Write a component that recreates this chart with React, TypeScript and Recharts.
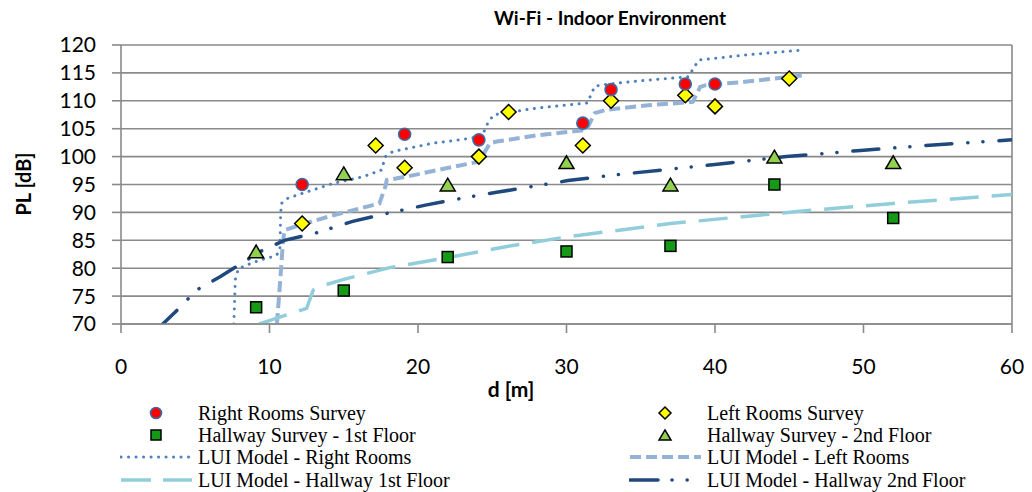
import React from 'react'
import { ComposedChart, XAxis, YAxis, CartesianGrid, Line, Scatter, ReferenceLine } from 'recharts'

// survey measurements (d in m, PL in dB)
const rightRoomsSurvey = [
  { d: 12.2, pl: 95 }, { d: 19.1, pl: 104 }, { d: 24.1, pl: 103 }, { d: 31.1, pl: 106 },
  { d: 33, pl: 112 }, { d: 38, pl: 113 }, { d: 40, pl: 113 },
]
const leftRoomsSurvey = [
  { d: 12.2, pl: 88 }, { d: 17.15, pl: 102 }, { d: 19.1, pl: 98 }, { d: 24.1, pl: 100 },
  { d: 26.1, pl: 108 }, { d: 31.1, pl: 102 }, { d: 33, pl: 110 }, { d: 38, pl: 111 },
  { d: 40, pl: 109 }, { d: 45, pl: 114 },
]
const hallway1Survey = [
  { d: 9.1, pl: 73 }, { d: 15, pl: 76 }, { d: 22, pl: 82 }, { d: 30, pl: 83 },
  { d: 37, pl: 84 }, { d: 44, pl: 95 }, { d: 52, pl: 89 },
]
const hallway2Survey = [
  { d: 9.1, pl: 83 }, { d: 15, pl: 97 }, { d: 22, pl: 95 }, { d: 30, pl: 99 },
  { d: 37, pl: 95 }, { d: 44, pl: 100 }, { d: 52, pl: 99 },
]

// LUI model curves
const rightRoomsModel = [
  { d: 7.6, pl: 70 }, { d: 7.7, pl: 78 }, { d: 7.9, pl: 79.9 }, { d: 8.5, pl: 80.6 }, { d: 9.4, pl: 81.5 },
  { d: 10.4, pl: 82.2 }, { d: 10.7, pl: 83 }, { d: 10.75, pl: 89.5 }, { d: 10.8, pl: 91.6 }, { d: 11.2, pl: 92.5 },
  { d: 12.2, pl: 93.4 }, { d: 14.3, pl: 95.2 }, { d: 16.3, pl: 96.4 }, { d: 17.55, pl: 97.6 }, { d: 17.8, pl: 100 },
  { d: 18.3, pl: 100.9 }, { d: 21, pl: 102.4 }, { d: 22.5, pl: 102.9 }, { d: 24.3, pl: 103.6 }, { d: 24.7, pl: 106 },
  { d: 25.1, pl: 107.5 }, { d: 28, pl: 108.7 }, { d: 31.4, pl: 109.6 }, { d: 31.9, pl: 112.6 }, { d: 32.5, pl: 112.9 },
  { d: 35, pl: 113.6 }, { d: 38.2, pl: 114.3 }, { d: 38.9, pl: 117.3 }, { d: 42, pl: 118.2 }, { d: 45.9, pl: 119.1 },
]
const leftRoomsModel = [
  { d: 10.5, pl: 70 }, { d: 10.7, pl: 77 }, { d: 10.9, pl: 84.5 }, { d: 11, pl: 86.8 }, { d: 12, pl: 87.7 },
  { d: 14.3, pl: 89.5 }, { d: 17.4, pl: 91.6 }, { d: 17.8, pl: 94.6 }, { d: 17.9, pl: 95.8 }, { d: 19.2, pl: 96.4 },
  { d: 21.9, pl: 97.9 }, { d: 24.1, pl: 99.1 }, { d: 24.85, pl: 102.4 }, { d: 25.3, pl: 102.7 }, { d: 28, pl: 103.8 },
  { d: 31.35, pl: 104.8 }, { d: 31.9, pl: 107.8 }, { d: 32.7, pl: 108.4 }, { d: 35.5, pl: 109.2 }, { d: 38.5, pl: 109.8 },
  { d: 39, pl: 112.5 }, { d: 39.4, pl: 112.8 }, { d: 42, pl: 113.4 }, { d: 46, pl: 114.6 },
]
const hallway1Model = [
  { d: 9.3, pl: 70 }, { d: 10, pl: 70.6 }, { d: 11.1, pl: 71.6 }, { d: 12.5, pl: 72.8 }, { d: 12.95, pl: 76.1 },
  { d: 13.5, pl: 76.8 }, { d: 15, pl: 78 }, { d: 18.1, pl: 80.1 }, { d: 22, pl: 81.9 }, { d: 26, pl: 83.9 },
  { d: 30, pl: 85.6 }, { d: 37, pl: 88 }, { d: 45.7, pl: 90.2 }, { d: 52, pl: 91.6 }, { d: 60, pl: 93.2 },
]
const hallway2Model = [
  { d: 2.5, pl: 69.2 }, { d: 3.6, pl: 72 }, { d: 5.1, pl: 76.1 }, { d: 6.7, pl: 78.5 }, { d: 8.5, pl: 81.5 },
  { d: 9.4, pl: 83 }, { d: 11, pl: 85 }, { d: 13, pl: 86.2 }, { d: 15.6, pl: 88.4 }, { d: 17.7, pl: 89.7 },
  { d: 20.5, pl: 91.3 }, { d: 23.5, pl: 92.8 }, { d: 25.3, pl: 93.6 }, { d: 30.1, pl: 95.7 }, { d: 33.2, pl: 96.7 },
  { d: 40, pl: 98.6 }, { d: 44.8, pl: 100 }, { d: 49.8, pl: 101.1 }, { d: 54.7, pl: 102.1 }, { d: 60, pl: 103 },
]

const xTicks = [0, 10, 20, 30, 40, 50, 60]
const yTicks = [70, 75, 80, 85, 90, 95, 100, 105, 110, 115, 120]

const GRID = '#8a8a8a'
const SANS = 'Lato, "Open Sans", sans-serif'
const SERIF = '"Liberation Serif", "DejaVu Serif", serif'

const STYLES = {
  rightModel: { stroke: '#4f81bd', strokeWidth: 3, strokeDasharray: '0.1 7.4', strokeLinecap: 'round' as const },
  leftModel: { stroke: '#95b3d7', strokeWidth: 4, strokeDasharray: '11 5', strokeLinecap: 'butt' as const },
  hall1Model: { stroke: '#92cddc', strokeWidth: 3.5, strokeDasharray: '29 13', strokeLinecap: 'butt' as const },
  hall2Model: { stroke: '#1f497d', strokeWidth: 3.5, strokeDasharray: '26 16 0.1 15 0.1 16', strokeLinecap: 'round' as const },
}

const circle = (cx: number, cy: number, r = 6) => (
  <circle cx={cx} cy={cy} r={r} fill="#ff0000" stroke="#3f6aa0" strokeWidth={1.6} />
)
const square = (cx: number, cy: number, s = 11) => (
  <rect x={cx - s / 2} y={cy - s / 2} width={s} height={s} fill="#149a14" stroke="#000" strokeWidth={1.5} />
)
const diamond = (cx: number, cy: number, h = 7.5) => (
  <polygon points={`${cx},${cy - h} ${cx + h},${cy} ${cx},${cy + h} ${cx - h},${cy}`} fill="#ffff00" stroke="#000" strokeWidth={1.5} />
)
const triangle = (cx: number, cy: number, w = 15) => {
  const h = w * 0.85
  return <polygon points={`${cx},${cy - h / 2} ${cx + w / 2},${cy + h / 2} ${cx - w / 2},${cy + h / 2}`} fill="#92d050" stroke="#000" strokeWidth={1.5} />
}

function LegendLine({ s }: { s: any }) {
  return (
    <svg width={74} height={10} style={{ display: 'block' }}>
      <line x1={1} x2={72} y1={5} y2={5} {...s} />
    </svg>
  )
}

function LegendMarker({ draw }: { draw: (cx: number, cy: number) => React.ReactNode }) {
  return (
    <svg width={74} height={18} style={{ display: 'block' }}>
      {draw(36, 9)}
    </svg>
  )
}

const legendRows = [
  [
    { label: 'Right Rooms Survey', icon: <LegendMarker draw={(x, y) => circle(x, y, 5.5)} /> },
    { label: 'Left Rooms Survey', icon: <LegendMarker draw={(x, y) => diamond(x, y, 6)} /> },
  ],
  [
    { label: 'Hallway Survey - 1st Floor', icon: <LegendMarker draw={(x, y) => square(x, y, 10)} /> },
    { label: 'Hallway Survey - 2nd Floor', icon: <LegendMarker draw={(x, y) => triangle(x, y, 12)} /> },
  ],
  [
    { label: 'LUI Model - Right Rooms', icon: <LegendLine s={STYLES.rightModel} /> },
    { label: 'LUI Model - Left Rooms', icon: <LegendLine s={STYLES.leftModel} /> },
  ],
  [
    { label: 'LUI Model - Hallway 1st Floor', icon: <LegendLine s={{ ...STYLES.hall1Model, strokeDasharray: '30 12' }} /> },
    { label: 'LUI Model - Hallway 2nd Floor', icon: <LegendLine s={{ ...STYLES.hall2Model, strokeDasharray: '28 14 0.1 15 0.1 20' }} /> },
  ],
]

const ROW_H = 22.2

export default function App() {
  return (
    <div style={{ position: 'absolute', left: 0, top: 0, width: 1032, height: 492, background: '#fff', overflow: 'hidden' }}>
      <div style={{ position: 'absolute', left: 410, width: 400, top: 6, textAlign: 'center', fontFamily: SANS, fontWeight: 700, fontSize: 19, color: '#000' }}>
        Wi-Fi - Indoor Environment
      </div>
      <div style={{ position: 'absolute', left: 23, top: 184, transform: 'translate(-50%, -50%) rotate(-90deg)', whiteSpace: 'nowrap', fontFamily: SANS, fontWeight: 700, fontSize: 20 }}>
        PL [dB]
      </div>
      <div style={{ position: 'absolute', left: 511, top: 388, transform: 'translate(-50%, -50%)', whiteSpace: 'nowrap', fontFamily: SANS, fontWeight: 700, fontSize: 21 }}>
        d [m]
      </div>

      <ComposedChart width={1032} height={400} margin={{ top: 45, right: 20, bottom: 0, left: 0 }} style={{ position: 'absolute', left: 0, top: 0 }}>
        <CartesianGrid vertical={false} stroke={GRID} strokeWidth={1.6} />
        <XAxis
          type="number" dataKey="d" domain={[0, 60]} ticks={xTicks} interval={0} allowDataOverflow height={76}
          tickSize={9} tickMargin={26} stroke={GRID} strokeWidth={1.6}
          tick={{ fontSize: 21, fill: '#000', fontFamily: SANS }}
        />
        <YAxis
          type="number" domain={[70, 120]} ticks={yTicks} interval={0} allowDataOverflow width={121}
          tickSize={9} tickMargin={16} stroke={GRID} strokeWidth={1.6}
          tick={{ fontSize: 21, fill: '#000', fontFamily: SANS }}
        />
        <ReferenceLine x={60} stroke={GRID} strokeWidth={1.6} />

        <Line data={rightRoomsModel} dataKey="pl" type="linear" dot={false} activeDot={false} isAnimationActive={false} {...STYLES.rightModel} />
        <Line data={leftRoomsModel} dataKey="pl" type="linear" dot={false} activeDot={false} isAnimationActive={false} {...STYLES.leftModel} />
        <Line data={hallway1Model} dataKey="pl" type="linear" dot={false} activeDot={false} isAnimationActive={false} {...STYLES.hall1Model} />
        <Line data={hallway2Model} dataKey="pl" type="linear" dot={false} activeDot={false} isAnimationActive={false} {...STYLES.hall2Model} />

        <Scatter data={hallway1Survey} dataKey="pl" isAnimationActive={false} shape={(p: any) => square(p.cx, p.cy)} />
        <Scatter data={hallway2Survey} dataKey="pl" isAnimationActive={false} shape={(p: any) => triangle(p.cx, p.cy)} />
        <Scatter data={leftRoomsSurvey} dataKey="pl" isAnimationActive={false} shape={(p: any) => diamond(p.cx, p.cy)} />
        <Scatter data={rightRoomsSurvey} dataKey="pl" isAnimationActive={false} shape={(p: any) => circle(p.cx, p.cy)} />
      </ComposedChart>

      {legendRows.map((row, i) => (
        <React.Fragment key={i}>
          {row.map((item, j) => (
            <div
              key={j}
              style={{
                position: 'absolute', left: j === 0 ? 120 : 629, top: 402 + i * ROW_H, height: ROW_H,
                display: 'flex', alignItems: 'center', fontFamily: SERIF, fontSize: 20, lineHeight: 1, color: '#000', whiteSpace: 'nowrap',
              }}
            >
              {item.icon}
              <span style={{ marginLeft: 4 }}>{item.label}</span>
            </div>
          ))}
        </React.Fragment>
      ))}
    </div>
  )
}
